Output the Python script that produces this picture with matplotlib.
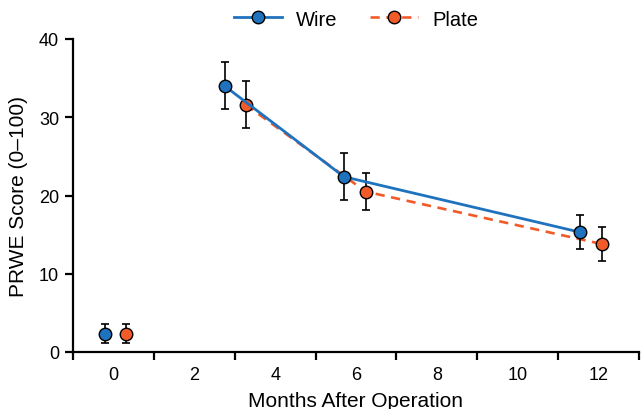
import numpy as np
import matplotlib
matplotlib.use('Agg')
import matplotlib.pyplot as plt
from matplotlib.ticker import FixedLocator

plt.rcParams['font.family'] = ['Liberation Sans', 'DejaVu Sans']

# datos
wire_x = [-0.2, 2.75, 5.7, 11.55]
wire_y = [2.35, 34.0, 22.4, 15.3]
wire_err = [1.2, 3.0, 3.0, 2.2]

plate_x = [0.3, 3.27, 6.24, 12.08]
plate_y = [2.35, 31.6, 20.5, 13.8]
plate_err = [1.2, 3.0, 2.35, 2.15]

xtick_labels = ['0', '2', '4', '6', '8', '10', '12']
xtick_pos = [0, 2, 4, 6, 8, 10, 12]

azul = '#1f72bd'
naranja = '#f15a29'

fig = plt.figure(figsize=(6.43, 4.10), dpi=100)
ax = fig.add_axes([73/643, 1 - 353/410, (639 - 73)/643, (353 - 40)/410])

# Plate
ax.errorbar(plate_x, plate_y, yerr=plate_err, fmt='none', ecolor='black',
            elinewidth=1.2, capsize=3.2, capthick=1.2, zorder=2)
ax.plot(plate_x[1:], plate_y[1:], color=naranja, lw=1.9, ls=(0, (3.5, 2.5)), zorder=3)
ax.plot(plate_x, plate_y, 'o', color=naranja, mec='black', mew=1.0, ms=9, zorder=4)

# Wire
ax.errorbar(wire_x, wire_y, yerr=wire_err, fmt='none', ecolor='black',
            elinewidth=1.2, capsize=3.2, capthick=1.2, zorder=5)
ax.plot(wire_x[1:], wire_y[1:], color=azul, lw=2.0, zorder=6)
ax.plot(wire_x, wire_y, 'o', color=azul, mec='black', mew=1.0, ms=9, zorder=7)

ax.set_xlim(-1, 13)
ax.set_ylim(0, 40)
ax.set_yticks([0, 10, 20, 30, 40])

ax.xaxis.set_major_locator(FixedLocator([-1, 1, 3, 5, 7, 9, 11, 13]))
ax.set_xticklabels([])
ax.xaxis.set_minor_locator(FixedLocator(xtick_pos))
ax.set_xticklabels(xtick_labels, minor=True)
ax.tick_params(axis='x', which='minor', length=0, pad=10, labelsize=13)
ax.tick_params(axis='both', which='major', direction='out', length=6, width=1.6,
               labelsize=13, pad=4)

for s in ['top', 'right']:
    ax.spines[s].set_visible(False)
for s in ['left', 'bottom']:
    ax.spines[s].set_linewidth(1.6)

ax.set_xlabel('Months After Operation', fontsize=15, labelpad=6)
ax.set_ylabel('PRWE Score (0\u2013100)', fontsize=15, labelpad=8)

h1, = ax.plot([], [], color=azul, lw=2.0, marker='o', mfc=azul, mec='black', mew=1.0, ms=9)
h2, = ax.plot([], [], color=naranja, lw=1.9, ls=(0, (3.5, 2.5)), marker='o', mfc=naranja,
              mec='black', mew=1.0, ms=9)
fig.legend([h1, h2], ['Wire', 'Plate'], loc='center', bbox_to_anchor=(356/643, 1 - 20/410),
           ncol=2, frameon=False, fontsize=14.5, handlelength=2.4, columnspacing=1.6,
           handletextpad=0.7)

plt.savefig('out.png', dpi=100)
